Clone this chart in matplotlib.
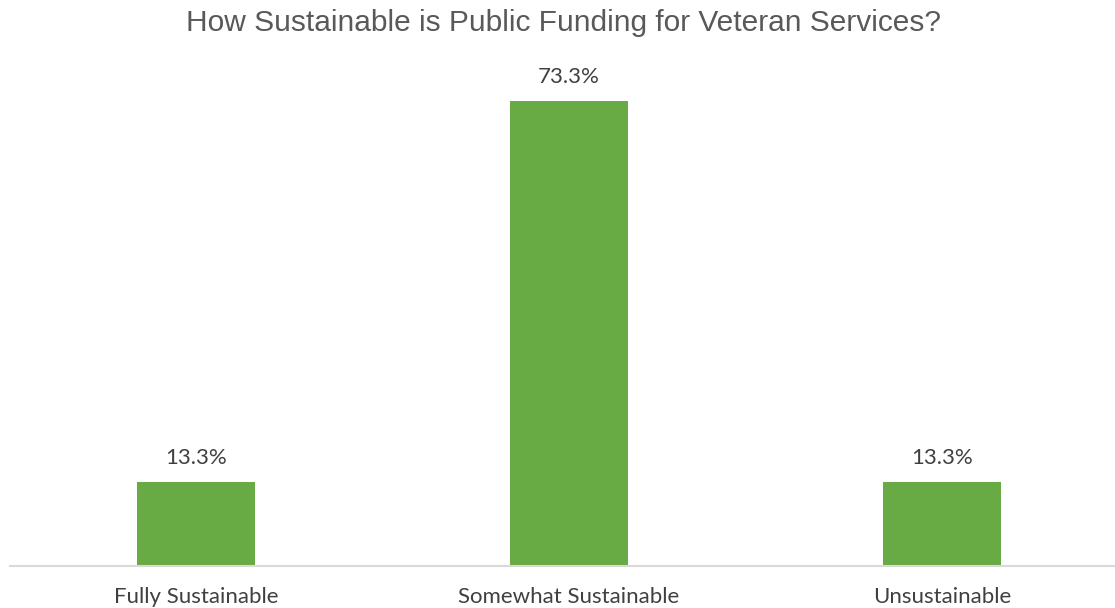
import matplotlib
matplotlib.use("Agg")
import matplotlib.pyplot as plt

# data
categories = ["Fully Sustainable", "Somewhat Sustainable", "Unsustainable"]
values = [13.3, 73.3, 13.3]
labels = ["13.3%", "73.3%", "13.3%"]

fig = plt.figure(figsize=(11.15, 6.08), dpi=100)
ax = fig.add_axes([9.5 / 1115, 42 / 608, 1119 / 1115, 506 / 608])

bars = ax.bar(range(len(categories)), values, width=0.316, color="#68ab45")
ax.set_xlim(-0.5, 2.5)
ax.set_ylim(0, 73.3 * 506 / 465)

# data labels
for b, lab in zip(bars, labels):
    ax.annotate(lab, (b.get_x() + b.get_width() / 2, b.get_height()),
                xytext=(0, 10), textcoords="offset points",
                ha="center", va="bottom", fontsize=16,
                family="Lato", color="#404040")

ax.set_xticks(range(len(categories)))
ax.set_xticklabels(categories, fontsize=16, family="Lato", color="#404040")
ax.tick_params(axis="x", length=0, pad=15)
ax.set_yticks([])
for s in ["top", "right", "left"]:
    ax.spines[s].set_visible(False)
ax.spines["bottom"].set_color("#d9d9d9")
ax.spines["bottom"].set_linewidth(1.5)

fig.text(563.5 / 1115, 1 - 23 / 608, "How Sustainable is Public Funding for Veteran Services?",
         ha="center", va="center", fontsize=21.5, family="Liberation Sans",
         color="#595959")

fig.savefig("out.png", dpi=100)
